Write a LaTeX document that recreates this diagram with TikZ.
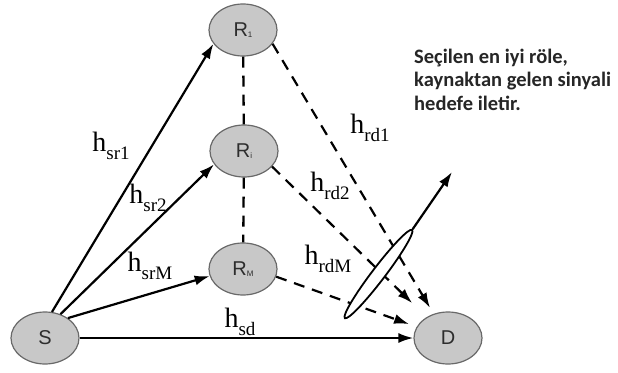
\documentclass[tikz,border=0pt]{standalone}
\usepackage{fontspec}
\setmainfont{Liberation Serif}
\newfontfamily\nodefont{Liberation Sans}
\newfontfamily\notefont{Carlito}
\usetikzlibrary{positioning,arrows.meta,shapes.geometric}
\definecolor{nodebg}{RGB}{200,200,200}
\definecolor{nodeln}{RGB}{105,105,105}
\definecolor{nodetx}{RGB}{45,45,45}
\newcommand{\chan}[1]{\fontsize{28}{28}\selectfont h\raisebox{-8pt}{\fontsize{19}{19}\selectfont #1}}
\newcommand{\rel}[1]{R\raisebox{-1pt}{\fontsize{8}{8}\selectfont #1}}
\tikzset{
  term/.style={ellipse,draw=nodeln,fill=nodebg,line width=1.2pt,minimum width=68pt,minimum height=52pt,inner sep=0pt,font=\nodefont\fontsize{20}{20}\selectfont,text=nodetx},
  ar/.style={-{Latex[length=15pt,width=10pt]},line width=2.2pt},
  dar/.style={ar,dash pattern=on 11pt off 8pt},
  dsh/.style={line width=2.3pt,dash pattern=on 11pt off 8pt},
  lab/.style={inner sep=0pt},
  note/.style={font=\notefont\bfseries\fontsize{20.5}{23.5}\selectfont,align=left,inner sep=0pt,text=black!85},
}

\begin{document}
\begin{tikzpicture}[x=1pt,y=-1pt]
  \useasboundingbox (0,0) rectangle (618,372);
  \node[term] (R1) at (243,30) {\rel{1}};
  \node[term] (Ri) at (244,151) {\rel{i}};
  \node[term] (RM) at (243,269) {\rel{M}};
  \node[term] (S) at (45,338) {S};
  \node[term] (D) at (448,338) {D};
  \draw[ar] (S.75) -- (R1.205);
  \draw[ar] (S.57) -- (Ri.204);
  \draw[ar] (S.41) -- (RM.192);
  \draw[ar] (S) -- (D);
  \draw[dsh] (R1) -- (Ri);
  \draw[dsh] (Ri) -- (RM);
  \draw[dar,shorten >=7pt] (R1.335) -- (D);
  \draw[dar,shorten >=20pt] (Ri.331) -- (D);
  \draw[dar,shorten >=8pt] (RM.347) -- (D);
  \node[lab] (lsr1) at (111,146) {\chan{sr1}};
  \node[lab] (lsr2) at (148,198) {\chan{sr2}};
  \node[lab] (lsrM) at (150,266) {\chan{srM}};
  \node[lab] (lsd) at (240,322) {\chan{sd}};
  \node[lab] (lrd1) at (370,128) {\chan{rd1}};
  \node[lab] (lrd2) at (330,186) {\chan{rd2}};
  \node[lab] (lrdM) at (328,259) {\chan{rdM}};
  \node[ellipse,draw,line width=1.8pt,fill=white,minimum width=111pt,minimum height=13pt,inner sep=0pt,rotate=52.7] (sel) at (378.5,274) {};
  \node[note,anchor=base west] (note) at (414,110) {Seçilen en iyi röle,\\kaynaktan gelen sinyali\\hedefe iletir.};
  \coordinate (hint) at (452,172);
  \draw[ar] (sel.east) -- (hint);
\end{tikzpicture}
\end{document}
